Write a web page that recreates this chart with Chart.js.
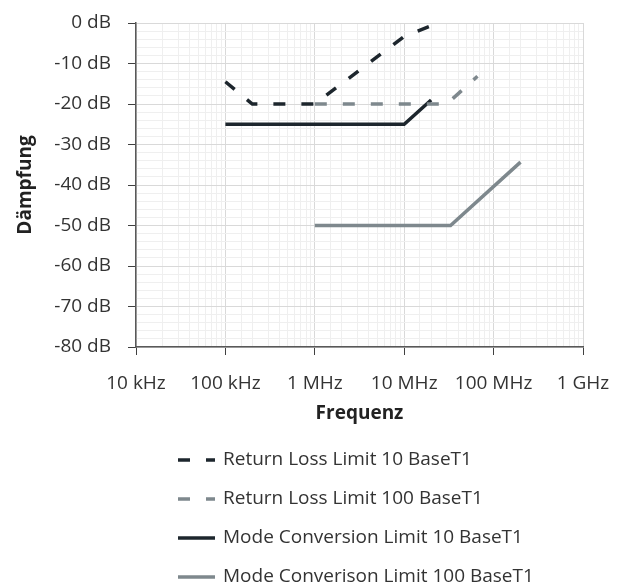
<!DOCTYPE html>
<html>
<head>
<meta charset="utf-8">
<script src="https://cdn.jsdelivr.net/npm/chart.js@4.4.1/dist/chart.umd.min.js"></script>
<style>
html,body{margin:0;padding:0;background:#ffffff;}
#wrap{width:622px;height:585px;position:relative;}
</style>
</head>
<body>
<div id="wrap"><canvas id="c" width="622" height="585"></canvas></div>
<script>
// ---- data ----
const seriesNames = [
  'Return Loss Limit 10 BaseT1',
  'Return Loss Limit 100 BaseT1',
  'Mode Conversion Limit 10 BaseT1',
  'Mode Converison Limit 100 BaseT1'
];
const rl10Freq = [1e5, 2e5, 1e6, 1e7, 2e7];
const rl10Db = [-14.5, -20, -20, -3.3, -0.7];
const rl100Freq = [1e6, 3e7, 6.6e7];
const rl100Db = [-20, -20, -13.15];
const mc10Freq = [1e5, 1e7, 2e7];
const mc10Db = [-25, -25, -19];
const mc100Freq = [1e6, 3.3e7, 2e8];
const mc100Db = [-50, -50, -34.35];
const xTickValues = [1e4, 1e5, 1e6, 1e7, 1e8, 1e9];
const xTickLabels = ['10 kHz', '100 kHz', '1 MHz', '10 MHz', '100 MHz', '1 GHz'];
const yMin = -80, yMax = 0, yLabelStep = 10, yGridStep = 2;
const xTitle = 'Frequenz';
const yTitle = 'Dämpfung';

// ---- styling ----
const DARK = '#1d262d';
const GREY = '#7e888d';
const FONT = "'Open Sans', sans-serif";
const TEXT = '#333333';

function pts(xs, ys) { return xs.map((x, i) => ({x: x, y: ys[i]})); }
function isDecade(v) { const e = Math.log10(v); return Math.abs(e - Math.round(e)) < 1e-6; }

const stackLegend = {
  id: 'stackLegend',
  afterDraw(chart) {
    const ctx = chart.ctx, a = chart.chartArea;
    chart.data.datasets.forEach((ds, i) => {
      const y = a.bottom + 113 + i * 39;
      ctx.save();
      ctx.strokeStyle = ds.borderColor;
      ctx.lineWidth = ds.borderWidth;
      ctx.setLineDash(ds.borderDash || []);
      ctx.beginPath();
      ctx.moveTo(a.left + 42, y);
      ctx.lineTo(a.left + 79, y);
      ctx.stroke();
      ctx.setLineDash([]);
      ctx.fillStyle = TEXT;
      ctx.font = "19px " + FONT;
      ctx.textBaseline = 'middle';
      ctx.textAlign = 'left';
      ctx.fillText(ds.label, a.left + 87, y);
      ctx.restore();
    });
  }
};

function build() {
  Chart.defaults.font.family = FONT;
  Chart.defaults.color = TEXT;
  new Chart(document.getElementById('c'), {
    type: 'line',
    data: {
      datasets: [
        {label: seriesNames[0], data: pts(rl10Freq, rl10Db), borderColor: DARK, borderWidth: 3.5, borderDash: [12, 16]},
        {label: seriesNames[1], data: pts(rl100Freq, rl100Db), borderColor: GREY, borderWidth: 3.5, borderDash: [12, 16]},
        {label: seriesNames[2], data: pts(mc10Freq, mc10Db), borderColor: DARK, borderWidth: 3.5},
        {label: seriesNames[3], data: pts(mc100Freq, mc100Db), borderColor: GREY, borderWidth: 3.5}
      ]
    },
    options: {
      responsive: false,
      animation: false,
      devicePixelRatio: 1,
      layout: {padding: {left: 0, top: 23, right: 39, bottom: 160}},
      elements: {point: {radius: 0, hoverRadius: 0}, line: {tension: 0, fill: false}},
      plugins: {legend: {display: false}, tooltip: {enabled: false}},
      scales: {
        x: {
          type: 'logarithmic',
          min: xTickValues[0],
          max: xTickValues[xTickValues.length - 1],
          afterFit(s) { s.height = 78; s.paddingLeft = 0; s.paddingRight = 0; },
          border: {color: '#595959', width: 1.5},
          grid: {
            color: c => (c.tick && isDecade(c.tick.value)) ? '#d9d9d9' : '#efefef',
            tickColor: c => (c.tick && isDecade(c.tick.value)) ? '#404040' : 'rgba(0,0,0,0)',
            tickLength: 8,
            lineWidth: 1
          },
          ticks: {
            autoSkip: false, maxRotation: 0, minRotation: 0, padding: 17,
            color: TEXT, font: {size: 19},
            callback: function (v) {
              const i = xTickValues.findIndex(t => Math.abs(t - v) / t < 1e-6);
              return i >= 0 ? xTickLabels[i] : '';
            }
          },
          title: {display: true, text: xTitle, color: '#222222', font: {size: 19, weight: 'bold'}, padding: {top: 0, bottom: 0}}
        },
        y: {
          min: yMin, max: yMax,
          afterFit(s) { s.width = 136; s.paddingTop = 0; s.paddingBottom = 0; },
          border: {color: '#595959', width: 1.5},
          grid: {
            color: c => (c.tick && Math.round(c.tick.value) % yLabelStep === 0) ? '#d9d9d9' : '#efefef',
            tickColor: c => (c.tick && Math.round(c.tick.value) % yLabelStep === 0) ? '#404040' : 'rgba(0,0,0,0)',
            tickLength: 8,
            lineWidth: 1
          },
          ticks: {
            stepSize: yGridStep, autoSkip: false, padding: 17,
            color: TEXT, font: {size: 19},
            callback: v => (Math.round(v) % yLabelStep === 0) ? (Math.round(v) + ' dB') : ''
          },
          title: {display: true, text: yTitle, color: '#222222', font: {size: 19, weight: 'bold'}, padding: {top: 14, bottom: 0}}
        }
      }
    },
    plugins: [stackLegend]
  });
}

if (document.fonts && document.fonts.load) {
  Promise.all([
    document.fonts.load("19px 'Open Sans'"),
    document.fonts.load("bold 19px 'Open Sans'")
  ]).then(build, build);
} else {
  build();
}
</script>
</body>
</html>
